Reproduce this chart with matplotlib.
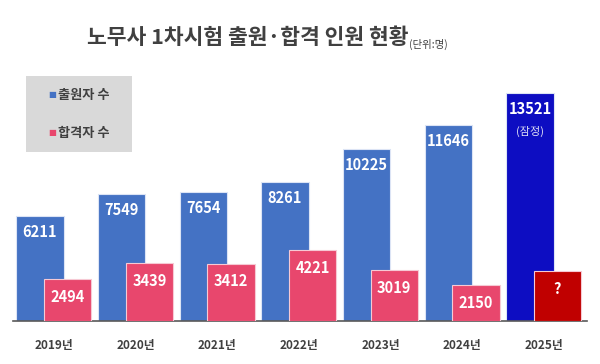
import matplotlib.pyplot as plt
from matplotlib.patches import Rectangle

plt.rcParams["font.family"] = ["Noto Sans CJK KR", "DejaVu Sans"]

years = ["2019년", "2020년", "2021년", "2022년", "2023년", "2024년", "2025년"]
applicants = [6211, 7549, 7654, 8261, 10225, 11646, 13521]
passed = [2494, 3439, 3412, 4221, 3019, 2150, 2960]
passed_labels = ["2494", "3439", "3412", "4221", "3019", "2150", "?"]

blue = "#4472C4"
blue_last = "#0D0DC2"
pink = "#E8476D"
red_last = "#C00000"

fig = plt.figure(figsize=(6, 3.64), dpi=100)
ax = fig.add_axes([0.0217, 0.118, 0.9566, 0.662])

x = list(range(len(years)))
width = 0.58
off = 0.17

b_colors = [blue] * (len(years) - 1) + [blue_last]
r_colors = [pink] * (len(years) - 1) + [red_last]

bars_b = ax.bar([i - off for i in x], applicants, width=width, color=b_colors,
                edgecolor="#DCE4F5", linewidth=0.8, zorder=2)
bars_r = ax.bar([i + off for i in x], passed, width=width, color=r_colors,
                edgecolor="#F6C9D4", linewidth=0.8, zorder=3)

for bar, v in zip(bars_b, applicants):
    ax.text(bar.get_x() + bar.get_width() / 2, v - 950, str(v),
            ha="center", va="center", color="white", fontsize=10.5,
            fontweight="bold", zorder=4)
ax.text(bars_b[-1].get_x() + bars_b[-1].get_width() / 2, applicants[-1] - 2250,
        "(잠정)", ha="center", va="center", color="#E0E0F5", fontsize=8, zorder=4)

for bar, v, lab in zip(bars_r, passed, passed_labels):
    ax.text(bar.get_x() + bar.get_width() / 2, v - 1050, lab,
            ha="center", va="center", color="white", fontsize=10.5,
            fontweight="bold", zorder=4)

ax.set_xlim(-0.5, 6.53)
ax.set_ylim(0, 14300)
ax.set_xticks(x)
ax.set_xticklabels(years, fontsize=8.5, fontweight="bold", color="#404040")
ax.tick_params(axis="x", length=0, pad=13)
ax.set_yticks([])
for side in ["top", "right", "left"]:
    ax.spines[side].set_visible(False)
ax.spines["bottom"].set_color("#595959")
ax.spines["bottom"].set_linewidth(1.2)

# legend box
fig.patches.append(Rectangle((26 / 600, 1 - 152 / 364), 106 / 600, 76 / 364,
                             transform=fig.transFigure, facecolor="#D9D9D9",
                             edgecolor="none", zorder=1))
fig.text(52 / 600, 1 - 95 / 364, "■", color=blue, fontsize=6, ha="center",
         va="center", family=["DejaVu Sans"], zorder=2)
fig.text(58 / 600, 1 - 95 / 364, "출원자 수", color="#404040", fontsize=9.5,
         fontweight="bold", ha="left", va="center", zorder=2)
fig.text(52 / 600, 1 - 133 / 364, "■", color=pink, fontsize=6, ha="center",
         va="center", family=["DejaVu Sans"], zorder=2)
fig.text(58 / 600, 1 - 133 / 364, "합격자 수", color="#404040", fontsize=9.5,
         fontweight="bold", ha="left", va="center", zorder=2)

fig.text(408 / 600, 1 - 38 / 364, "노무사 1차시험 출원·합격 인원 현황",
         ha="right", va="center", fontsize=15.5, fontweight="bold", color="#404040")
fig.text(409 / 600, 1 - 44 / 364, "(단위:명)", ha="left", va="center",
         fontsize=7.5, color="#404040")

fig.savefig("out.png", dpi=100)
plt.close(fig)
